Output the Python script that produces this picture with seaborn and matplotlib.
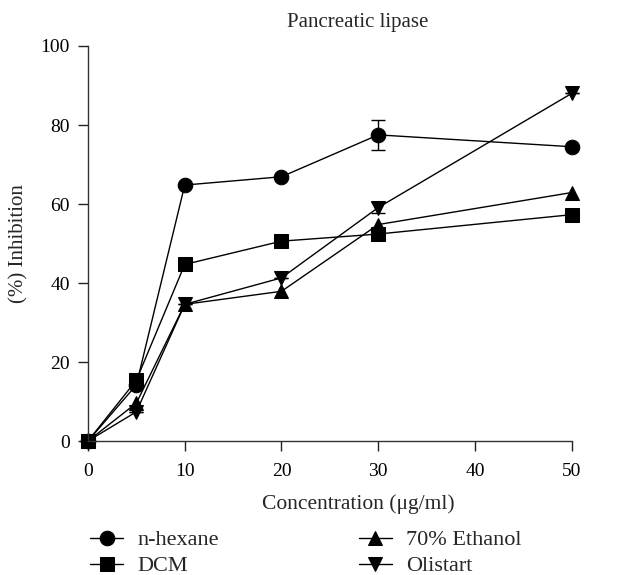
import matplotlib
matplotlib.use("Agg")
import matplotlib.pyplot as plt
import seaborn as sns
import pandas as pd

conc = [0, 5, 10, 20, 30, 50]
nhexane = [0, 14.2, 64.8, 66.9, 77.5, 74.5]
dcm = [0, 15.4, 44.7, 50.6, 52.4, 57.3]
ethanol = [0, 9.6, 34.6, 37.9, 54.8, 62.9]
olistart = [0, 7.4, 34.6, 41.3, 59.1, 88.0]
err_nhexane = [0, 0, 0, 0, 3.8, 0]
err_olistart = [0, 0, 0, 0, 1.5, 0]
series = ["n-hexane", "DCM", "70% Ethanol", "Olistart"]
values = [nhexane, dcm, ethanol, olistart]

rows = []
for name, vals in zip(series, values):
    for c, v in zip(conc, vals):
        rows.append({"Concentration": c, "Inhibition": v, "Series": name})
df = pd.DataFrame(rows)

sns.set_style("ticks")
plt.rcParams["font.family"] = ["Liberation Serif", "DejaVu Serif"]

fig = plt.figure(figsize=(6.39, 5.75), dpi=100)
ax = fig.add_axes([0.1377, 0.233, 0.757, 0.687])

markers = {"n-hexane": "o", "DCM": "s", "70% Ethanol": "^", "Olistart": "v"}
sns.lineplot(data=df, x="Concentration", y="Inhibition", hue="Series", style="Series",
             hue_order=series, style_order=series,
             markers=markers, dashes=False, palette=["black"] * 4,
             markersize=10.5, mec="black", linewidth=1.0, ax=ax)

ax.errorbar(conc, nhexane, yerr=err_nhexane, fmt="none", ecolor="black", elinewidth=1, capsize=5)
ax.errorbar(conc, olistart, yerr=err_olistart, fmt="none", ecolor="black", elinewidth=1, capsize=5)

ax.set_xlim(0, 50)
ax.set_ylim(0, 100)
ax.set_xticks([0, 10, 20, 30, 40, 50])
ax.set_yticks([0, 20, 40, 60, 80, 100])
for sp in ["top", "right"]:
    ax.spines[sp].set_visible(False)
for sp in ["left", "bottom"]:
    ax.spines[sp].set_linewidth(1.0)
    ax.spines[sp].set_color("#333333")
ax.tick_params(axis="both", direction="out", length=7, width=1, labelsize=14, colors="#222222")
ax.tick_params(axis="x", pad=9)
ax.tick_params(axis="y", pad=6)
for lbl in ax.get_xticklabels() + ax.get_yticklabels():
    lbl.set_color("black")
for line in ax.get_lines():
    line.set_clip_on(False)

ax.set_xlabel("Concentration (μg/ml)", fontsize=15.5, labelpad=10, x=0.558)
ax.set_ylabel("(%) Inhibition", fontsize=15, labelpad=9)
ax.set_title("Pancreatic lipase", fontsize=15, pad=14, x=0.558)

sns.move_legend(ax, "upper left", bbox_to_anchor=(0.004, -0.225), ncol=2, frameon=False,
                title=None, fontsize=16, handlelength=1.5, columnspacing=6.3,
                labelspacing=0.24, handletextpad=0.63, borderpad=0, borderaxespad=0)

fig.savefig("out.png", dpi=100)
